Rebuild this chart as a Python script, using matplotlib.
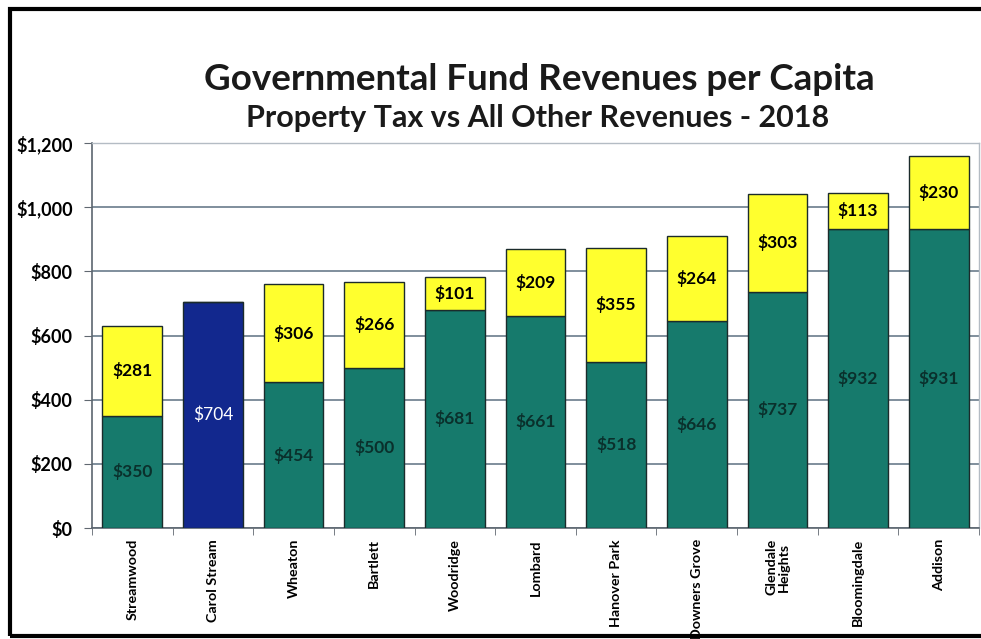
import numpy as np
import matplotlib.pyplot as plt
from matplotlib.patches import Rectangle
from matplotlib.ticker import FixedLocator, FuncFormatter

towns = ["Streamwood", "Carol Stream", "Wheaton", "Bartlett", "Woodridge",
         "Lombard", "Hanover Park", "Downers Grove", "Glendale\nHeights",
         "Bloomingdale", "Addison"]
other_rev = [350, 704, 454, 500, 681, 661, 518, 646, 737, 932, 931]
prop_tax = [281, 0, 306, 266, 101, 209, 355, 264, 303, 113, 230]
highlight = "Carol Stream"

plt.rcParams['font.family'] = ['Lato', 'DejaVu Sans']

green = "#167a6c"
yellow = "#ffff2e"
navy = "#12288e"

fig = plt.figure(figsize=(9.81, 6.39), dpi=100)
ax = fig.add_axes([92 / 981, 1 - 528 / 639, (979 - 92) / 981, (528 - 143) / 639])

x = np.arange(len(towns))
colors = [navy if t == highlight else green for t in towns]
ax.bar(x, other_rev, width=0.74, color=colors, edgecolor="#1b2b2b", linewidth=1.0, zorder=3)
ax.bar(x, prop_tax, width=0.74, bottom=other_rev, color=yellow,
       edgecolor="#1b2b2b", linewidth=1.0, zorder=3)

for i, t in enumerate(towns):
    if t == highlight:
        ax.text(i, other_rev[i] / 2, f"${other_rev[i]}", ha="center", va="center",
                color="white", fontsize=12.5, zorder=4)
    else:
        ax.text(i, other_rev[i] / 2, f"${other_rev[i]}", ha="center", va="center",
                color="#0a302c", fontsize=12.5, fontweight="bold", zorder=4)
    if prop_tax[i] > 0:
        ax.text(i, other_rev[i] + prop_tax[i] / 2, f"${prop_tax[i]}", ha="center",
                va="center", color="black", fontsize=12.5, fontweight="bold", zorder=4)

ax.set_xlim(-0.5, len(towns) - 0.5)
ax.set_ylim(0, 1200)
ax.set_yticks(np.arange(0, 1201, 200))
ax.yaxis.set_major_formatter(FuncFormatter(lambda v, p: f"${v:,.0f}"))
ax.yaxis.grid(True, color="#7f8e9c", linewidth=1.4, zorder=0)
ax.set_axisbelow(True)

ax.set_xticks(x)
ax.set_xticklabels(towns, rotation=90, fontsize=10.3, fontweight="bold", va="top",
                   linespacing=1.0)
ax.tick_params(axis="x", which="major", length=0, pad=8)
ax.xaxis.set_minor_locator(FixedLocator(np.arange(-0.5, len(towns), 1)))
ax.tick_params(axis="x", which="minor", length=5, color="#606870")
ax.tick_params(axis="y", length=6, color="#606870", labelsize=13, pad=8)
for lbl in ax.get_yticklabels():
    lbl.set_fontweight("bold")

for side in ["left", "bottom"]:
    ax.spines[side].set_color("#5c6670")
    ax.spines[side].set_linewidth(1.2)
for side in ["top", "right"]:
    ax.spines[side].set_color("#b4bcc4")
    ax.spines[side].set_linewidth(1.0)

fig.text(539 / 981, 1 - 79 / 639, "Governmental Fund Revenues per Capita",
         ha="center", va="center", fontsize=26.5, fontweight="bold", color="#1a1a1a")
fig.text(538 / 981, 1 - 118 / 639, "Property Tax vs All Other Revenues - 2018",
         ha="center", va="center", fontsize=22, fontweight="bold", color="#1a1a1a")

fig.patches.append(Rectangle((10 / 981, 1 - 636 / 639), 1.0, (636 - 9) / 639,
                             transform=fig.transFigure, fill=False,
                             edgecolor="black", linewidth=3))

fig.savefig("out.png", dpi=100)
